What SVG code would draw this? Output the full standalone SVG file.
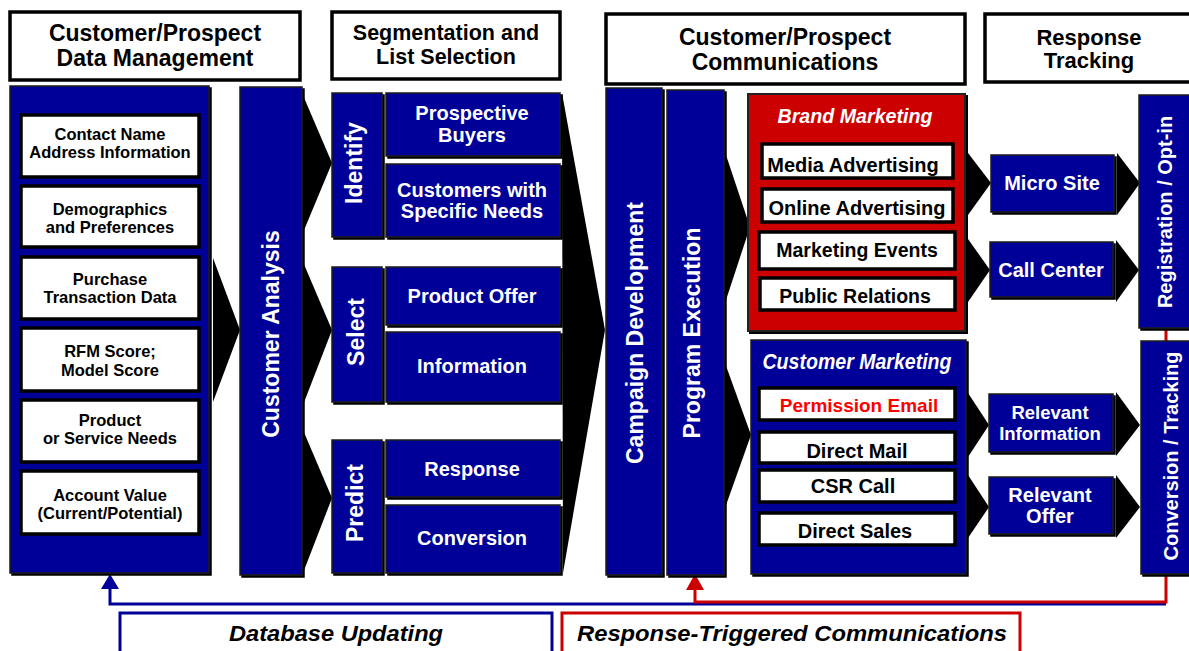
<svg xmlns="http://www.w3.org/2000/svg" width="1189" height="651" viewBox="0 0 1189 651">
  <style>
    text { font-family: "Liberation Sans", Arial, sans-serif; font-weight: bold; text-anchor: middle; }
    .hdr { fill: #fff; stroke: #000; stroke-width: 3.5; }
    .hdr-t { font-size: 23px; fill: #000; }
    .blue { fill: #000099; stroke: #1a1a1a; stroke-width: 1.5; filter: url(#sh); }
    .red { fill: #cc0000; stroke: #222; stroke-width: 2; filter: url(#sh); }
    .lbl { fill: #fff; stroke: #000; stroke-width: 3.5; }
    .lbl-t { font-size: 16.5px; fill: #000; }
    .w20 { font-size: 20px; fill: #fff; }
    .vt { font-size: 23px; fill: #fff; }
    .vt20 { font-size: 20px; fill: #fff; }
    .b20 { font-size: 20px; fill: #000; }
    .ttl { font-style: italic; fill: #fff; }
    .chev { fill: #000; }
    .fb-blue { fill: none; stroke: #000099; stroke-width: 3; }
    .fb-red { fill: none; stroke: #cc0000; stroke-width: 3; }
    .foot { font-size: 22px; font-style: italic; fill: #000; }
  </style>
  <defs>
    <filter id="sh" x="-10%" y="-10%" width="130%" height="130%">
      <feDropShadow dx="2" dy="2" stdDeviation="0.4" flood-color="#000" flood-opacity="1"/>
    </filter>
  </defs>

  <!-- flow connectors: chevrons and feedback loops -->
  <g id="connectors">
    <polygon class="chev" points="213,258 240,330 213,402"/>
    <polygon class="chev" points="302,93 332,163 302,235"/>
    <polygon class="chev" points="303,262 332,330 303,405"/>
    <polygon class="chev" points="303,430 332,498 303,573"/>
    <polygon class="chev" points="562,93 605,330 563,573"/>
    <polygon class="chev" points="726,155 750,227 726,300"/>
    <polygon class="chev" points="725,363 751,435 725,508"/>
    <polygon class="chev" points="968,153 991,183 968,215"/>
    <polygon class="chev" points="968,239 990,270 968,302"/>
    <polygon class="chev" points="1117,153 1140,183 1117,215"/>
    <polygon class="chev" points="1116,240 1139,270 1116,302"/>
    <polygon class="chev" points="968,393 989,425 968,457"/>
    <polygon class="chev" points="1116,392 1140,425 1116,456"/>
    <polygon class="chev" points="968,475 989,507 968,538"/>
    <polygon class="chev" points="1116,475 1140,507 1116,538"/>

    <!-- database updating loop -->
    <path class="fb-blue" d="M110,588 V604 H1166"/>
    <polygon points="101,589 119,589 110,574" fill="#000099"/>
    <!-- response-triggered loop -->
    <path class="fb-red" d="M1166,328 V602 H695 V588"/>
    <polygon points="686,590 704,590 695,574" fill="#cc0000"/>
  </g>

  <!-- column headers -->
  <g id="hdr-data">
    <rect class="hdr" x="10" y="12" width="290" height="68"/>
    <text class="hdr-t" x="155" y="41">Customer/Prospect</text>
    <text class="hdr-t" x="155" y="66">Data Management</text>
  </g>
  <g id="hdr-seg">
    <rect class="hdr" x="332" y="12" width="228" height="67"/>
    <text class="hdr-t" x="446" y="40" style="font-size:21.5px">Segmentation and</text>
    <text class="hdr-t" x="446" y="64" style="font-size:21.5px">List Selection</text>
  </g>
  <g id="hdr-comm">
    <rect class="hdr" x="606" y="14" width="359" height="70"/>
    <text class="hdr-t" x="785" y="45">Customer/Prospect</text>
    <text class="hdr-t" x="785" y="70">Communications</text>
  </g>
  <g id="hdr-resp">
    <rect class="hdr" x="985" y="14" width="220" height="68"/>
    <text class="hdr-t" x="1089" y="45" style="font-size:22px">Response</text>
    <text class="hdr-t" x="1089" y="68" style="font-size:22px">Tracking</text>
  </g>

  <!-- data management column -->
  <g id="data-store">
    <rect class="blue" x="10" y="86" width="199" height="487"/>
    <rect class="lbl" x="21" y="115" width="178" height="62"/>
    <text class="lbl-t" x="110" y="140">Contact Name</text>
    <text class="lbl-t" x="110" y="158">Address Information</text>
    <rect class="lbl" x="21" y="186" width="178" height="61"/>
    <text class="lbl-t" x="110" y="215">Demographics</text>
    <text class="lbl-t" x="110" y="233">and Preferences</text>
    <rect class="lbl" x="21" y="257" width="178" height="62"/>
    <text class="lbl-t" x="110" y="285">Purchase</text>
    <text class="lbl-t" x="110" y="303">Transaction Data</text>
    <rect class="lbl" x="21" y="328" width="178" height="63"/>
    <text class="lbl-t" x="110" y="357">RFM Score;</text>
    <text class="lbl-t" x="110" y="376">Model Score</text>
    <rect class="lbl" x="21" y="400" width="178" height="62"/>
    <text class="lbl-t" x="110" y="426">Product</text>
    <text class="lbl-t" x="110" y="444">or Service Needs</text>
    <rect class="lbl" x="21" y="471" width="178" height="63"/>
    <text class="lbl-t" x="110" y="501">Account Value</text>
    <text class="lbl-t" x="110" y="519">(Current/Potential)</text>
  </g>

  <g id="customer-analysis">
    <rect class="blue" x="240" y="87" width="62" height="488"/>
    <text class="vt" transform="translate(279,334) rotate(-90)">Customer Analysis</text>
  </g>

  <!-- segmentation column -->
  <g id="identify">
    <rect class="blue" x="332" y="93" width="50" height="144"/>
    <text class="vt" transform="translate(362,163) rotate(-90)">Identify</text>
  </g>
  <g id="prospective-buyers">
    <rect class="blue" x="386" y="93" width="174" height="63"/>
    <text class="w20" x="472" y="120">Prospective</text>
    <text class="w20" x="472" y="142">Buyers</text>
  </g>
  <g id="specific-needs">
    <rect class="blue" x="386" y="164" width="174" height="73"/>
    <text class="w20" x="472" y="197">Customers with</text>
    <text class="w20" x="472" y="218">Specific Needs</text>
  </g>
  <g id="select">
    <rect class="blue" x="332" y="267" width="50" height="135"/>
    <text class="vt" transform="translate(364,332) rotate(-90)">Select</text>
  </g>
  <g id="product-offer">
    <rect class="blue" x="386" y="267" width="174" height="58"/>
    <text class="w20" x="472" y="303">Product Offer</text>
  </g>
  <g id="information">
    <rect class="blue" x="386" y="332" width="174" height="70"/>
    <text class="w20" x="472" y="373">Information</text>
  </g>
  <g id="predict">
    <rect class="blue" x="332" y="440" width="50" height="133"/>
    <text class="vt" transform="translate(363,503) rotate(-90)">Predict</text>
  </g>
  <g id="response">
    <rect class="blue" x="386" y="440" width="174" height="57"/>
    <text class="w20" x="472" y="476">Response</text>
  </g>
  <g id="conversion">
    <rect class="blue" x="386" y="505" width="174" height="68"/>
    <text class="w20" x="472" y="545">Conversion</text>
  </g>

  <!-- communications column -->
  <g id="campaign-development">
    <rect class="blue" x="606" y="88" width="56" height="487"/>
    <text class="vt" transform="translate(643,333) rotate(-90)">Campaign Development</text>
  </g>
  <g id="program-execution">
    <rect class="blue" x="667" y="90" width="57" height="485"/>
    <text class="vt" transform="translate(700,333) rotate(-90)">Program Execution</text>
  </g>

  <g id="brand-marketing">
    <rect class="red" x="748" y="94" width="217" height="237"/>
    <text class="ttl" x="855" y="123" style="font-size:21px" textLength="155" lengthAdjust="spacingAndGlyphs">Brand Marketing</text>
    <rect class="lbl" x="762" y="144" width="191" height="34"/>
    <text class="b20" x="853" y="172">Media Advertising</text>
    <rect class="lbl" x="762" y="189" width="191" height="33"/>
    <text class="b20" x="857" y="215">Online Advertising</text>
    <rect class="lbl" x="759" y="232" width="196" height="37"/>
    <text class="b20" x="857" y="257" style="font-size:19.5px">Marketing Events</text>
    <rect class="lbl" x="760" y="278" width="195" height="32"/>
    <text class="b20" x="855" y="303" style="font-size:19.5px">Public Relations</text>
  </g>

  <g id="customer-marketing">
    <rect class="blue" x="751" y="340" width="215" height="234"/>
    <text class="ttl" x="857" y="369" style="font-size:22px" textLength="189" lengthAdjust="spacingAndGlyphs">Customer Marketing</text>
    <rect class="lbl" x="759" y="388" width="196" height="32"/>
    <text class="b20" x="859" y="412" style="font-size:19px;fill:#ff0000">Permission Email</text>
    <rect class="lbl" x="759" y="432" width="196" height="31"/>
    <text class="b20" x="857" y="458">Direct Mail</text>
    <rect class="lbl" x="759" y="470" width="196" height="32"/>
    <text class="b20" x="853" y="493">CSR Call</text>
    <rect class="lbl" x="759" y="513" width="196" height="32"/>
    <text class="b20" x="855" y="538">Direct Sales</text>
  </g>

  <g id="micro-site">
    <rect class="blue" x="991" y="155" width="123" height="57"/>
    <text class="w20" x="1052" y="190">Micro Site</text>
  </g>
  <g id="call-center">
    <rect class="blue" x="990" y="242" width="123" height="55"/>
    <text class="w20" x="1051" y="277">Call Center</text>
  </g>
  <g id="relevant-information">
    <rect class="blue" x="989" y="394" width="124" height="58"/>
    <text class="w20" x="1050" y="419" style="font-size:18.5px">Relevant</text>
    <text class="w20" x="1050" y="440" style="font-size:18.5px">Information</text>
  </g>
  <g id="relevant-offer">
    <rect class="blue" x="989" y="477" width="124" height="57"/>
    <text class="w20" x="1050" y="502">Relevant</text>
    <text class="w20" x="1050" y="523">Offer</text>
  </g>

  <!-- response tracking column -->
  <g id="registration">
    <rect class="blue" x="1139" y="95" width="62" height="233"/>
    <text class="vt20" transform="translate(1172,212) rotate(-90)">Registration / Opt-in</text>
  </g>
  <g id="conversion-tracking">
    <rect class="blue" x="1141" y="341" width="62" height="233"/>
    <text class="vt20" transform="translate(1178,456) rotate(-90)">Conversion / Tracking</text>
  </g>

  <!-- loop captions -->
  <g id="database-updating">
    <rect x="120" y="613" width="432" height="50" fill="#fff" stroke="#000099" stroke-width="3"/>
    <text class="foot" x="336" y="641" textLength="214" lengthAdjust="spacingAndGlyphs">Database Updating</text>
  </g>
  <g id="response-triggered">
    <rect x="562" y="613" width="458" height="50" fill="#fff" stroke="#cc0000" stroke-width="3"/>
    <text class="foot" x="792" y="641" textLength="430" lengthAdjust="spacingAndGlyphs">Response-Triggered Communications</text>
  </g>
</svg>
